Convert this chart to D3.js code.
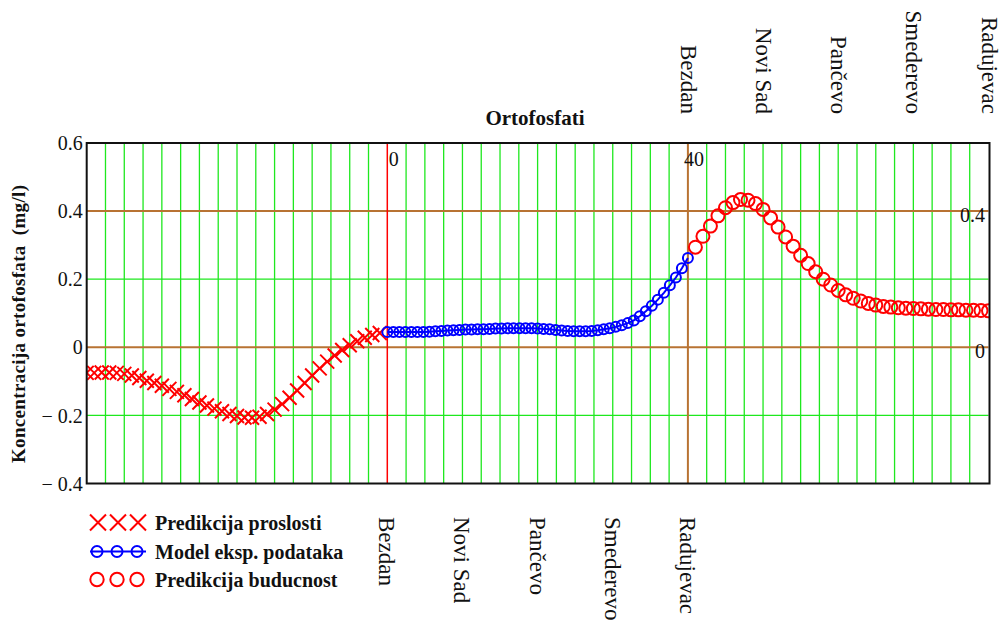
<!DOCTYPE html>
<html><head><meta charset="utf-8">
<script src="https://cdn.jsdelivr.net/npm/d3@7"></script>
<style>body{margin:0;background:#fff}svg{display:block}svg text{font-family:"Liberation Serif","DejaVu Serif",serif !important}</style>
</head><body><svg id="c" width="1000" height="623" font-family="Liberation Serif, DejaVu Serif, serif"></svg>
<script>
// ---- data ----
const pastX = [-40,-39,-38,-37,-36,-35,-34,-33,-32,-31,-30,-29,-28,-27,-26,-25,-24,-23,-22,-21,-20,-19,-18,-17,-16,-15,-14,-13,-12,-11,-10,-9,-8,-7,-6,-5,-4,-3,-2,-1];
const pastY = [-0.075,-0.075,-0.074,-0.074,-0.075,-0.078,-0.083,-0.090,-0.098,-0.105,-0.113,-0.122,-0.131,-0.141,-0.152,-0.162,-0.171,-0.180,-0.188,-0.196,-0.202,-0.206,-0.207,-0.204,-0.196,-0.183,-0.167,-0.148,-0.127,-0.105,-0.083,-0.062,-0.042,-0.024,-0.008,0.006,0.018,0.028,0.036,0.042];
const modelX = [0,0.8,1.6,2.4,3.2,4,4.8,5.6,6.4,7.2,8,8.8,9.6,10.4,11.2,12,12.8,13.6,14.4,15.2,16,16.8,17.6,18.4,19.2,20,20.8,21.6,22.4,23.2,24,24.8,25.6,26.4,27.2,28,28.8,29.6,30.4,31.2,32,32.8,33.6,34.4,35.2,36,36.8,37.6,38.4,39.2,40];
const modelY = [0.045,0.045,0.045,0.045,0.045,0.045,0.045,0.046,0.047,0.048,0.049,0.050,0.051,0.052,0.052,0.053,0.053,0.054,0.055,0.055,0.056,0.056,0.056,0.056,0.056,0.055,0.054,0.053,0.051,0.049,0.048,0.047,0.047,0.047,0.048,0.050,0.053,0.056,0.060,0.065,0.071,0.079,0.091,0.106,0.122,0.140,0.160,0.182,0.205,0.232,0.262];
const futureX = [41,42,43,44,45,46,47,48,49,50,51,52,53,54,55,56,57,58,59,60,61,62,63,64,65,66,67,68,69,70,71,72,73,74,75,76,77,78,79,80];
const futureY = [0.294,0.326,0.356,0.386,0.410,0.425,0.434,0.432,0.422,0.405,0.380,0.353,0.324,0.297,0.270,0.246,0.222,0.200,0.183,0.167,0.154,0.144,0.136,0.129,0.124,0.120,0.118,0.116,0.115,0.114,0.113,0.112,0.111,0.111,0.110,0.110,0.109,0.109,0.108,0.107];
const yTicks = [0.6,0.4,0.2,0,-0.2,-0.4];
const yTickLabels = ["0.6","0.4","0.2","0","\u2212 0.2","\u2212 0.4"];
const gridX = [-37.5,-35,-32.5,-30,-27.5,-25,-22.5,-20,-17.5,-15,-12.5,-10,-7.5,-5,-2.5,2.5,5,7.5,10,12.5,15,17.5,20,22.5,25,27.5,30,32.5,35,37.5,42.5,45,47.5,50,52.5,55,57.5,60,62.5,65,67.5,70,72.5,75,77.5];
const bottomCities = ["Bezdan","Novi Sad","Pančevo","Smederevo","Radujevac"];
const bottomCityX = [0,10,20,30,40];
const topCities = ["Bezdan","Novi Sad","Pančevo","Smederevo","Radujevac"];
const topCityX = [40,50,60,70,80];
const legendLabels = ["Predikcija proslosti","Model eksp. podataka","Predikcija buducnost"];
const title = "Ortofosfati";
const yTitle = "Koncentracija ortofosfata  (mg/l)";

// ---- layout ----
const FONT = "Liberation Serif, DejaVu Serif, serif";
const svg = d3.select("#c");
const L = 86.7, R = 988.5, T = 143, B = 483.5;
const x = d3.scaleLinear().domain([-40, 80]).range([L, R]);
const y = d3.scaleLinear().domain([-0.4, 0.6]).range([B, T]);
const GREEN = "#1ee81e", BROWN = "#b87333", RED = "#ff0000", BLUE = "#0000ff";

svg.append("defs").append("clipPath").attr("id","clip")
  .append("rect").attr("x",L).attr("y",T).attr("width",R-L+1.5).attr("height",B-T);

const g = svg.append("g");
g.selectAll(".vg").data(gridX).join("line")
  .attr("x1",d=>x(d)).attr("x2",d=>x(d)).attr("y1",T).attr("y2",B)
  .attr("stroke",GREEN).attr("stroke-width",1.3);
g.selectAll(".hg").data([0.2,-0.2]).join("line")
  .attr("x1",L).attr("x2",R).attr("y1",d=>y(d)).attr("y2",d=>y(d))
  .attr("stroke",GREEN).attr("stroke-width",1.3);
g.selectAll(".hb").data([0.4,0]).join("line")
  .attr("x1",L).attr("x2",R).attr("y1",d=>y(d)).attr("y2",d=>y(d))
  .attr("stroke",BROWN).attr("stroke-width",2);
g.append("line").attr("x1",x(0)).attr("x2",x(0)).attr("y1",T).attr("y2",B).attr("stroke",RED).attr("stroke-width",1.5);
g.append("line").attr("x1",x(40)).attr("x2",x(40)).attr("y1",T).attr("y2",B).attr("stroke",BROWN).attr("stroke-width",2);

// series
const sg = svg.append("g").attr("clip-path","url(#clip)");
const past = pastX.map((v,i)=>[v,pastY[i]]);
const model = modelX.map((v,i)=>[v,modelY[i]]);
const future = futureX.map((v,i)=>[v,futureY[i]]);
const xs = 7;
sg.selectAll(".px").data(past).join("path")
  .attr("d",d=>{const cx=x(d[0]),cy=y(d[1]);return `M${cx-xs},${cy-xs}L${cx+xs},${cy+xs}M${cx-xs},${cy+xs}L${cx+xs},${cy-xs}`;})
  .attr("stroke",RED).attr("stroke-width",2).attr("fill","none");
sg.append("path").datum(model).attr("d",d3.line().x(d=>x(d[0])).y(d=>y(d[1])))
  .attr("stroke",BLUE).attr("stroke-width",2).attr("fill","none");
sg.selectAll(".mc").data(model).join("circle")
  .attr("cx",d=>x(d[0])).attr("cy",d=>y(d[1])).attr("r",5)
  .attr("stroke",BLUE).attr("stroke-width",2).attr("fill","none");
sg.selectAll(".fc").data(future).join("circle")
  .attr("cx",d=>x(d[0])).attr("cy",d=>y(d[1])).attr("r",6.5)
  .attr("stroke",RED).attr("stroke-width",2).attr("fill","none");

// frame
svg.append("rect").attr("x",L).attr("y",T).attr("width",R-L+1).attr("height",B-T)
  .attr("fill","none").attr("stroke","#111").attr("stroke-width",2);

// y axis labels
const ax = svg.append("g").attr("transform",`translate(${L-4},0)`)
  .call(d3.axisLeft(y).tickValues(yTicks).tickFormat((d,i)=>yTickLabels[i]).tickSize(0).tickPadding(0));
ax.attr("font-family",FONT).attr("font-size",20);
ax.select(".domain").remove();
ax.selectAll("text").attr("font-size",20).attr("fill","#111")
  .attr("font-family",FONT).attr("dy","0.33em");

function txt(sel){ return sel.attr("font-family",FONT).attr("fill","#111"); }
// secondary labels
txt(svg.append("text")).attr("x",x(0)+1.5).attr("y",166).attr("font-size",20).text("0");
txt(svg.append("text")).attr("x",x(40)-4).attr("y",166).attr("font-size",20).text("40");
txt(svg.append("text")).attr("x",985).attr("y",y(0.4)+11).attr("font-size",20).attr("text-anchor","end").text("0.4");
txt(svg.append("text")).attr("x",985).attr("y",y(0)+11).attr("font-size",20).attr("text-anchor","end").text("0");

// title
txt(svg.append("text")).attr("x",535).attr("y",125).attr("text-anchor","middle")
  .attr("font-size",21).attr("font-weight","bold").text(title);
// y title
txt(svg.append("text")).attr("transform","translate(25,324) rotate(-90)").attr("text-anchor","middle")
  .attr("font-size",19).attr("font-weight","bold").style("white-space","pre")
  .attr("textLength",278).attr("lengthAdjust","spacing").text(yTitle);

// city labels
txt(svg.selectAll(".bc").data(bottomCities).join("text"))
  .attr("transform",(d,i)=>`translate(${x(bottomCityX[i])-8},517) rotate(90)`)
  .attr("font-size",23).text(d=>d);
txt(svg.selectAll(".tc").data(topCities).join("text"))
  .attr("transform",(d,i)=>`translate(${x(topCityX[i])-7},114) rotate(90)`)
  .attr("text-anchor","end").attr("font-size",23).text(d=>d);

// legend
const rowsY = [522.5,551.5,579.5], symX = [98,118,138];
const lg = svg.append("g");
symX.forEach(cx=>{
  const cy=rowsY[0], s=8;
  lg.append("path").attr("d",`M${cx-s},${cy-s}L${cx+s},${cy+s}M${cx-s},${cy+s}L${cx+s},${cy-s}`)
    .attr("stroke",RED).attr("stroke-width",2);
});
lg.append("line").attr("x1",90).attr("x2",146).attr("y1",rowsY[1]).attr("y2",rowsY[1]).attr("stroke",BLUE).attr("stroke-width",2.2);
symX.forEach(cx=>{
  lg.append("circle").attr("cx",cx-1).attr("cy",rowsY[1]).attr("r",5.5).attr("fill","none").attr("stroke",BLUE).attr("stroke-width",2);
  lg.append("circle").attr("cx",cx-1).attr("cy",rowsY[2]).attr("r",6.7).attr("fill","none").attr("stroke",RED).attr("stroke-width",2);
});
txt(lg.selectAll(".lt").data(legendLabels).join("text"))
  .attr("x",155).attr("y",(d,i)=>rowsY[i]+7).attr("font-size",20).attr("font-weight","bold").text(d=>d);
</script></body></html>
